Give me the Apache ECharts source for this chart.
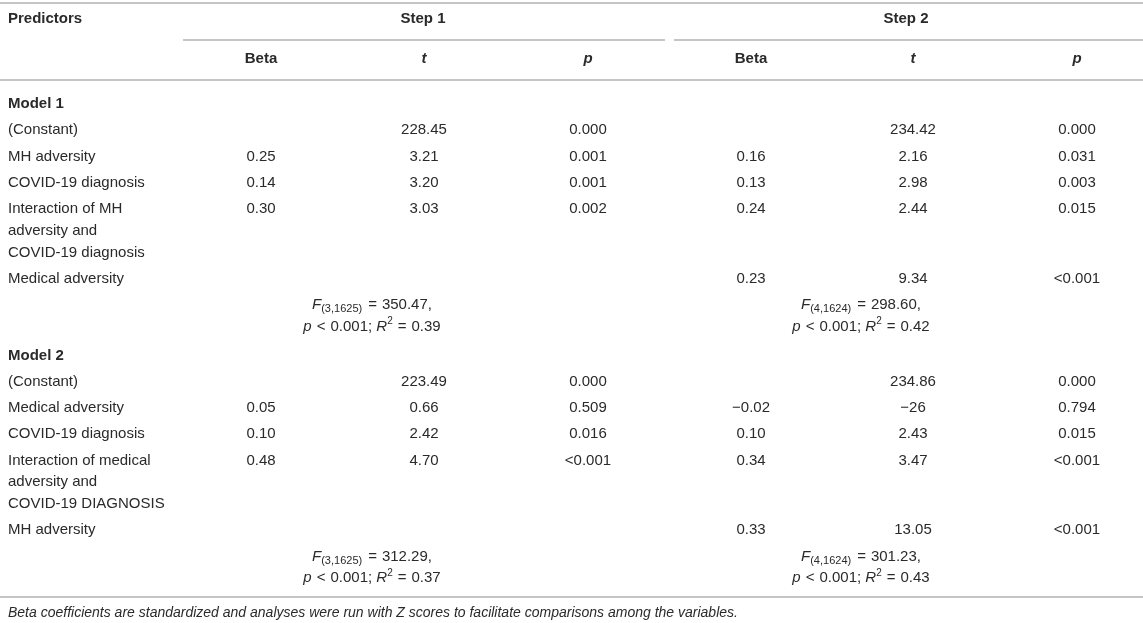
<!DOCTYPE html>
<html>
<head>
<meta charset="utf-8">
<title>Regression table</title>
<script src="https://cdn.jsdelivr.net/npm/echarts@6/dist/echarts.min.js"></script>
<style>
html,body{margin:0;padding:0;background:#fff;}
#main{width:1143px;height:623px;}
</style>
</head>
<body>
<div id="main"></div>
<script>
// header texts
var firstHead = 'Predictors';
var stepTitles = ['Step 1', 'Step 2'];
var colTitles = ['Beta', 't', 'p'];
var modelNames = ['Model 1', 'Model 2'];

// Model 1
var m1Predictors = ['(Constant)', 'MH adversity', 'COVID-19 diagnosis', 'Interaction of MH\nadversity and\nCOVID-19 diagnosis', 'Medical adversity'];
var m1Step1Beta = ['', '0.25', '0.14', '0.30', ''];
var m1Step1T = ['228.45', '3.21', '3.20', '3.03', ''];
var m1Step1P = ['0.000', '0.001', '0.001', '0.002', ''];
var m1Step2Beta = ['', '0.16', '0.13', '0.24', '0.23'];
var m1Step2T = ['234.42', '2.16', '2.98', '2.44', '9.34'];
var m1Step2P = ['0.000', '0.031', '0.003', '0.015', '<0.001'];
var m1Df = ['(3,1625)', '(4,1624)'];
var m1F = ['350.47', '298.60'];
var m1R2 = ['0.39', '0.42'];

// Model 2
var m2Predictors = ['(Constant)', 'Medical adversity', 'COVID-19 diagnosis', 'Interaction of medical\nadversity and\nCOVID-19 DIAGNOSIS', 'MH adversity'];
var m2Step1Beta = ['', '0.05', '0.10', '0.48', ''];
var m2Step1T = ['223.49', '0.66', '2.42', '4.70', ''];
var m2Step1P = ['0.000', '0.509', '0.016', '<0.001', ''];
var m2Step2Beta = ['', '\u22120.02', '0.10', '0.34', '0.33'];
var m2Step2T = ['234.86', '\u221226', '2.43', '3.47', '13.05'];
var m2Step2P = ['0.000', '0.794', '0.015', '<0.001', '<0.001'];
var m2Df = ['(3,1625)', '(4,1624)'];
var m2F = ['312.29', '301.23'];
var m2R2 = ['0.37', '0.43'];

var footNote = 'Beta coefficients are standardized and analyses were run with Z scores to facilitate comparisons among the variables.';

// layout (px, y grows downward)
var W = 1143, H = 623;
var labelX = 8;
var colX = [[261, 424, 588], [751, 913, 1077]];
var stepX = [423, 906];
var fitX = [372, 861];
var rowH = 26.2, lineH = 21.8;
var textDy = 1.5;   // glyph centre sits a bit high with middle alignment
var txtColor = '#2a2a2a';
var ruleColor = '#b2b2b2';
var font = '"Liberation Sans", Arial, Helvetica, sans-serif';

var cells = [];   // {x,y,text,align,weight,italic,size,rich}
var rules = [];   // [x1, y, x2]

function addCell(x, y, text, opt){
	if(text === '' || text == null) return;
	opt = opt || {};
	cells.push({x:x, y:y + textDy, text:text, align:opt.align || 'center', weight:opt.weight || 'normal',
		italic:!!opt.italic, size:opt.size || 15, rich:!!opt.rich});
}

function addModel(name, y, predictors, steps, df, fVal, r2){
	addCell(labelX, y, name, {align:'left', weight:'bold'});
	y += rowH;
	for(var i = 0; i < predictors.length; i++){
		var lines = predictors[i].split('\n');
		for(var k = 0; k < lines.length; k++){
			addCell(labelX, y + k * lineH, lines[k], {align:'left'});
		}
		for(var s = 0; s < 2; s++){
			for(var c = 0; c < 3; c++){
				addCell(colX[s][c], y, steps[s][c][i]);
			}
		}
		y += rowH + lineH * (lines.length - 1);
	}
	// model fit lines
	for(var s2 = 0; s2 < 2; s2++){
		addCell(fitX[s2], y, '{i|F}{s|' + df[s2] + '}{o|=}{n|' + fVal[s2] + ',}', {rich:true});
		addCell(fitX[s2], y + lineH, '{i|p}{o|<}{n|0.001; }{i|R}{u|2}{o|=}{n|' + r2[s2] + '}', {rich:true});
	}
	return y + lineH + 29;
}

// header
rules.push([0, 3, W]);
addCell(labelX, 17, firstHead, {align:'left', weight:'bold'});
for(var s = 0; s < 2; s++){
	addCell(stepX[s], 17, stepTitles[s], {weight:'bold'});
	for(var c = 0; c < 3; c++){
		addCell(colX[s][c], 57, colTitles[c], {weight:'bold', italic:c > 0});
	}
}
rules.push([183, 40, 665]);
rules.push([674, 40, W]);
rules.push([0, 80, W]);

var nextY = addModel(modelNames[0], 102.5, m1Predictors,
	[[m1Step1Beta, m1Step1T, m1Step1P], [m1Step2Beta, m1Step2T, m1Step2P]], m1Df, m1F, m1R2);
addModel(modelNames[1], nextY, m2Predictors,
	[[m2Step1Beta, m2Step1T, m2Step1P], [m2Step2Beta, m2Step2T, m2Step2P]], m2Df, m2F, m2R2);

rules.push([0, 597, W]);
addCell(labelX, 611.5, footNote, {align:'left', italic:true, size:14});

var richStyle = {
	n:{fontSize:15, lineHeight:20, fontFamily:font, fill:txtColor},
	o:{fontSize:15, lineHeight:20, fontFamily:font, fill:txtColor, padding:[0, 5, 0, 5]},
	i:{fontSize:15, lineHeight:20, fontStyle:'italic', fontFamily:font, fill:txtColor},
	s:{fontSize:11, lineHeight:6, verticalAlign:'bottom', fontFamily:font, fill:txtColor, padding:[0, 1, 0, 0]},
	u:{fontSize:10, lineHeight:10, verticalAlign:'top', fontFamily:font, fill:txtColor}
};

var myChart = echarts.init(document.getElementById('main'));
var option = {
	animation:false,
	grid:{left:0, right:0, top:0, bottom:0},
	xAxis:{type:'value', min:0, max:W, show:false},
	yAxis:{type:'value', min:0, max:H, inverse:true, show:false},
	series:[
		{
			type:'custom',
			clip:false,
			data:rules,
			renderItem:function(params, api){
				var a = api.coord([api.value(0), api.value(1)]);
				var b = api.coord([api.value(2), api.value(1)]);
				return {type:'line', shape:{x1:a[0], y1:a[1], x2:b[0], y2:b[1]},
					style:{stroke:ruleColor, lineWidth:1.6}};
			}
		},
		{
			type:'custom',
			clip:false,
			data:cells.map(function(c){ return [c.x, c.y]; }),
			renderItem:function(params, api){
				var c = cells[params.dataIndex];
				var p = api.coord([api.value(0), api.value(1)]);
				var st = {
					text:c.text,
					fill:txtColor,
					fontFamily:font,
					fontSize:c.size,
					fontWeight:c.weight,
					fontStyle:c.italic ? 'italic' : 'normal',
					align:c.align,
					verticalAlign:'middle'
				};
				if(c.rich) st.rich = richStyle;
				return {type:'text', x:p[0], y:p[1], style:st};
			}
		}
	]
};
myChart.setOption(option);
</script>
</body>
</html>
